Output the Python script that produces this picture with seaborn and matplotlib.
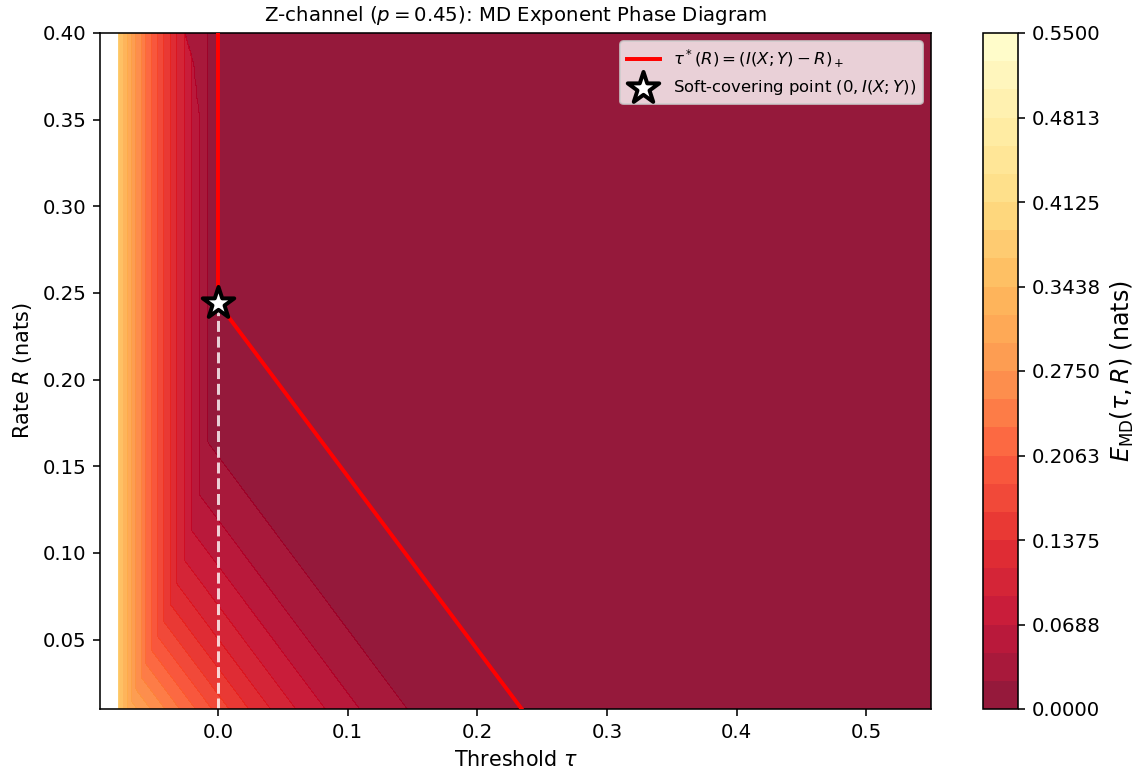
import numpy as np
import matplotlib
matplotlib.use("Agg")
import matplotlib.pyplot as plt
import seaborn as sns

# ---------------- data ----------------
I_XY = 0.2443  # soft-covering point rate (nats)

# E_MD profile versus threshold (upper part of the diagram, vertical bands)
tau_profile_tau = [-0.077, -0.075, -0.070, -0.065, -0.060, -0.055, -0.050, -0.045,
                   -0.040, -0.035, -0.030, -0.025, -0.020, -0.015, -0.010, -0.005,
                   -0.0015, 0.55]
tau_profile_E = [0.372, 0.356, 0.3208, 0.2847, 0.2563, 0.2250, 0.1986, 0.1736,
                 0.1514, 0.1290, 0.1072, 0.0869, 0.0669, 0.0490, 0.0309, 0.0125,
                 0.0, 0.0]

# E_MD profile versus tau + R (lower part of the diagram, diagonal bands)
sum_profile_s = [-0.08, -0.06, -0.04, -0.02, 0.00, 0.02, 0.04, 0.06, 0.08, 0.10,
                 0.12, 0.14, 0.16, 0.20, 0.95]
sum_profile_E = [0.362, 0.3151, 0.2707, 0.2300, 0.1925, 0.1580, 0.1280, 0.1025,
                 0.0807, 0.0619, 0.0452, 0.0325, 0.0205, 0.0, 0.0]

# top-left ridge where the exponent drops (upper region)
ridge_R = [0.323, 0.342, 0.3615, 0.381, 0.387, 0.40]
ridge_tau = [-0.0088, -0.0121, -0.0159, -0.0185, -0.0205, -0.0256]
ridge_E = 0.034

# grid extents
tau_min, tau_max = -0.077, 0.55
R_min, R_max = 0.01, 0.40

# optimal threshold curve tau*(R) = (I - R)_+
tau_star_R = [0.01, I_XY, 0.40]
tau_star_tau = [0.2343, 0.0, 0.0]

# dashed guide below the soft-covering point
guide_R = [0.01, I_XY]
guide_tau = [0.0, 0.0]

cbar_ticks = [0.0, 0.06875, 0.1375, 0.20625, 0.275, 0.34375, 0.4125, 0.48125, 0.55]
cbar_ticklabels = ["0.0000", "0.0688", "0.1375", "0.2063", "0.2750",
                   "0.3438", "0.4125", "0.4813", "0.5500"]
n_levels = 25

# ---------------- field ----------------
tau_grid = np.linspace(tau_min, tau_max, 1255)
R_grid = np.linspace(R_min, R_max, 781)
T, RR = np.meshgrid(tau_grid, R_grid)
E = np.maximum(np.interp(T, tau_profile_tau, tau_profile_E),
               np.interp(T + RR, sum_profile_s, sum_profile_E))
ridge_mask = (RR >= ridge_R[0]) & (T > np.interp(RR, ridge_R, ridge_tau))
E = np.where(ridge_mask, np.minimum(E, ridge_E), E)

# ---------------- figure ----------------
DPI = 142.5
fig = plt.figure(figsize=(1140 / DPI, 774 / DPI), dpi=DPI)
ax = fig.add_axes([100 / 1140, 65 / 774, 831 / 1140, 676 / 774])
cax = fig.add_axes([983 / 1140, 65 / 774, 35 / 1140, 676 / 774])

levels = np.linspace(0, 0.55, n_levels)
cf = ax.contourf(tau_grid, R_grid, E, levels=levels, cmap="YlOrRd_r", alpha=0.9)

sns.lineplot(x=tau_star_tau, y=tau_star_R, sort=False, estimator=None,
             color="#ff0000", lw=2, ax=ax, zorder=3,
             label=r"$\tau^*(R) = (I(X;Y) - R)_+$")
ax.plot(guide_tau, guide_R, color="white", ls="--", lw=1.5, alpha=0.8, zorder=2)
sns.scatterplot(x=[0.0], y=[I_XY], marker="*", s=280, color="white",
                edgecolor="black", linewidth=2, ax=ax, zorder=5,
                label=r"Soft-covering point $(0, I(X;Y))$")

ax.set_xlim(-0.091, 0.55)
ax.set_ylim(R_min, R_max)
ax.set_xlabel(r"Threshold $\tau$", fontsize=10.5)
ax.set_ylabel(r"Rate $R$ (nats)", fontsize=10.5)
ax.set_title(r"Z-channel ($p = 0.45$): MD Exponent Phase Diagram", fontsize=10)
ax.tick_params(labelsize=10)
ax.legend(loc="upper right", fontsize=8.33)

cbar = fig.colorbar(cf, cax=cax)
cbar.set_ticks(cbar_ticks)
cbar.set_ticklabels(cbar_ticklabels)
cbar.ax.tick_params(labelsize=10)
cbar.set_label(r"$E_{\mathrm{MD}}(\tau, R)$ (nats)", fontsize=12)

fig.savefig("out.png", dpi=DPI)
